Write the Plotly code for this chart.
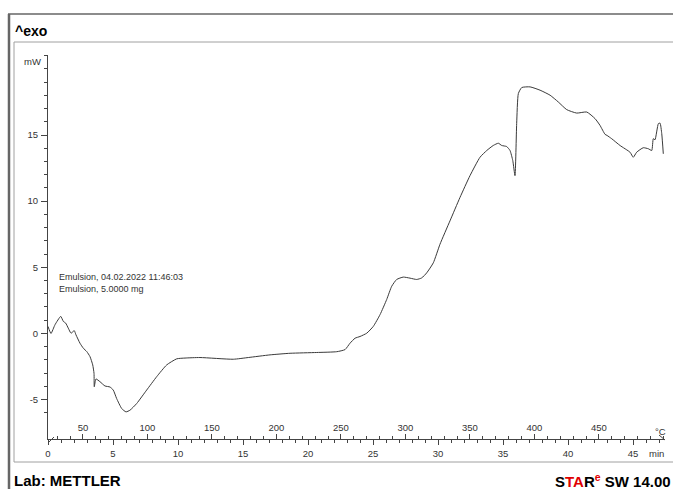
import plotly.graph_objects as go

# ---- data (time in min, heat flow in mW) ----
time_min = [0.0, 0.23, 0.54, 0.98, 1.18, 1.36, 1.56, 1.77, 2.02, 2.15, 2.46, 2.72, 2.98, 3.23, 3.44,
            3.54, 3.56, 3.69, 4.0, 4.38, 4.77, 5.02, 5.28, 5.67, 6.0, 6.31, 6.82, 7.59, 8.36, 9.13,
            9.90, 10.54, 11.69, 14.25, 15.41, 17.08, 18.62, 20.67, 22.21, 22.85, 23.23, 23.62, 24.0,
            24.52, 25.02, 25.54, 26.05, 26.44, 26.82, 27.33, 27.85, 28.36, 28.75, 29.13, 29.64, 30.15,
            30.92, 31.69, 32.46, 33.23, 33.75, 34.25, 34.64, 34.9, 35.28, 35.54, 35.75, 35.92, 36.05,
            36.18, 36.44, 37.08, 37.85, 38.62, 39.25, 39.9, 40.67, 41.44, 42.08, 42.46, 42.85, 43.0,
            43.36, 44.0, 44.77, 45.02, 45.28, 45.79, 46.18, 46.44, 46.56, 46.69, 46.95, 47.08, 47.21,
            47.33]
heat_flow_mw = [0.53, 0.0, 0.66, 1.29, 0.91, 0.78, 0.40, 0.02, 0.21, -0.10, -0.74, -1.12, -1.37, -1.75,
                -2.38, -3.02, -4.03, -3.44, -3.65, -3.97, -4.05, -4.28, -4.92, -5.68, -5.93, -5.80,
                -5.30, -4.28, -3.27, -2.38, -1.92, -1.86, -1.82, -1.95, -1.82, -1.62, -1.50, -1.44,
                -1.38, -1.22, -0.74, -0.36, -0.23, 0.02, 0.53, 1.42, 2.56, 3.57, 4.08, 4.26, 4.18,
                4.08, 4.20, 4.58, 5.34, 6.74, 8.51, 10.28, 11.93, 13.32, 13.83, 14.21, 14.38, 14.21,
                14.13, 13.83, 13.07, 11.93, 15.86, 18.14, 18.59, 18.64, 18.39, 18.01, 17.50, 16.92,
                16.66, 16.74, 16.24, 15.73, 15.05, 14.97, 14.72, 14.21, 13.70, 13.32, 13.70, 14.04,
                13.96, 13.83, 14.72, 14.64, 15.86, 15.90, 15.10, 13.58]

min_ticks = [0, 5, 10, 15, 20, 25, 30, 35, 40, 45]
temp_ticks = [50, 100, 150, 200, 250, 300, 350, 400, 450]
mw_ticks = [-5, 0, 5, 10, 15]
legend_lines = ["Emulsion, 04.02.2022 11:46:03", "Emulsion, 5.0000 mg"]

# ---- layout geometry (pixels) ----
W, H = 673, 489
L, R, T, B = 48, 665, 55, 439
PW, PH = R - L, B - T

def px(x):
    return (x - L) / PW

def py(y):
    return (B - y) / PH

FONT = "Liberation Sans, Arial, sans-serif"
TXT = "#333333"

fig = go.Figure()
fig.add_trace(go.Scatter(x=time_min, y=heat_flow_mw, mode="lines",
                         line=dict(color="#3a3a3a", width=1, shape="spline", smoothing=0.5),
                         showlegend=False, hoverinfo="skip"))
# invisible trace to activate the temperature axis
fig.add_trace(go.Scatter(x=[50], y=[0], xaxis="x2", mode="markers",
                         marker=dict(opacity=0), showlegend=False, hoverinfo="skip"))

fig.update_layout(
    width=W, height=H,
    margin=dict(l=L, r=W - R, t=T, b=H - B),
    paper_bgcolor="white", plot_bgcolor="white",
    font=dict(family=FONT, size=9, color=TXT),
    xaxis=dict(range=[0, 47.46], showgrid=False, zeroline=False, showline=True,
               linecolor="#444", linewidth=1, ticks="outside", ticklen=5, tickcolor="#444",
               tickmode="array", tickvals=min_ticks, ticktext=[str(v) for v in min_ticks],
               minor=dict(tickmode="linear", tick0=0, dtick=1, ticks="outside", ticklen=3,
                          tickcolor="#444"),
               tickfont=dict(size=9.5, color=TXT), ticklabelstandoff=1),
    xaxis2=dict(range=[22.9, 501.2], overlaying="x", side="bottom", anchor="y",
                showgrid=False, zeroline=False, showline=False,
                ticks="inside", ticklen=5, tickcolor="#444",
                tickmode="array", tickvals=temp_ticks, ticktext=[str(v) for v in temp_ticks],
                ticklabelposition="inside",
                minor=dict(tickmode="linear", tick0=0, dtick=10, ticks="inside", ticklen=3,
                           tickcolor="#444"),
                tickfont=dict(size=9.5, color=TXT)),
    yaxis=dict(range=[-7.98, 21.05], showgrid=False, zeroline=False, showline=True,
               linecolor="#444", linewidth=1, ticks="outside", ticklen=6, tickcolor="#444",
               tickmode="array", tickvals=mw_ticks, ticktext=[str(v) for v in mw_ticks],
               minor=dict(tickmode="linear", tick0=0, dtick=1, ticks="outside", ticklen=3,
                          tickcolor="#444"),
               tickfont=dict(size=9.5, color=TXT), ticklabelstandoff=1),
)

shapes = []
def seg(x0, y0, x1, y1, color, width):
    shapes.append(dict(type="line", xref="paper", yref="paper",
                       x0=px(x0), y0=py(y0), x1=px(x1), y1=py(y1),
                       line=dict(color=color, width=width), layer="above"))

# outer frame
seg(8, 14, 690, 14, "#666666", 1.5)
seg(9, 14, 9, 500, "#666666", 2.5)
# inner frame
seg(14, 42, 690, 42, "#a0a0a0", 1)
seg(14, 42, 14, 462, "#a0a0a0", 1)
seg(14, 462, 690, 462, "#a0a0a0", 1)
# axis end marks
seg(659, 435, 665, 440, "#444", 1)
seg(49, 442, 54, 437, "#444", 1)
fig.update_layout(shapes=shapes)

ann = []
def text(x, y, s, size=9, xanchor="left", bold=False, color=TXT):
    ann.append(dict(x=px(x), y=py(y), xref="paper", yref="paper", text=s, showarrow=False,
                    xanchor=xanchor, yanchor="middle",
                    font=dict(family=FONT, size=size, color=color,
                              weight="bold" if bold else "normal")))

text(13, 31, "^exo", size=14, bold=True, color="black")
text(12, 480, "Lab: METTLER", size=15, bold=True, color="black")
text(673, 480, 'S<span style="color:#e00000">TA</span>R<sup><span style="color:#e00000">e</span></sup> SW 14.00',
     size=15, xanchor="right", bold=True, color="black")
text(43, 62, "mW", size=9.5, xanchor="right")
text(660, 431, "°C", size=9.5, xanchor="center")
text(656, 453, "min", size=9.5, xanchor="center")
text(57, 277, legend_lines[0])
text(57, 289, legend_lines[1])
fig.update_layout(annotations=ann)

fig.write_html("out.html", config={"displayModeBar": False},
               post_script="document.body.style.margin='0';document.body.style.overflow='hidden';")
